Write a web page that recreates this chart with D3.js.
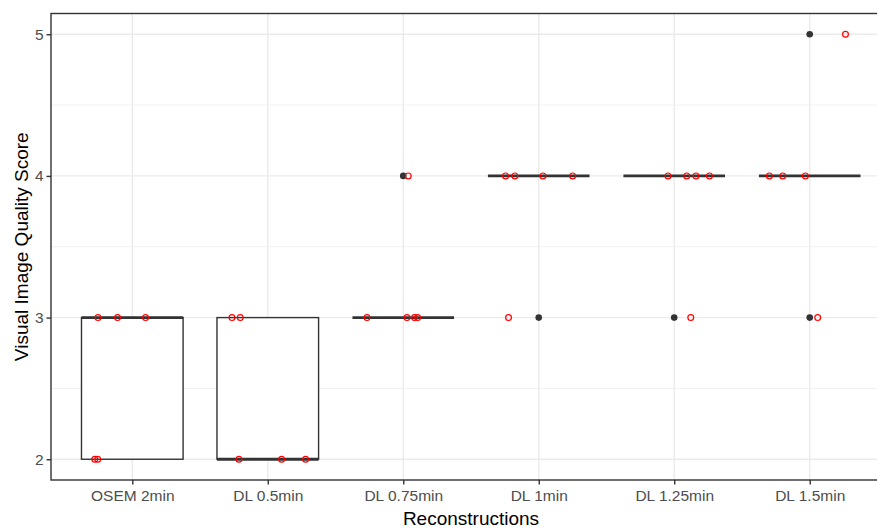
<!DOCTYPE html>
<html>
<head>
<meta charset="utf-8">
<script src="https://cdn.jsdelivr.net/npm/d3@7"></script>
<style>
  body { margin: 0; background: #fff; }
  svg text { font-family: "Liberation Sans", Arial, sans-serif; }
</style>
</head>
<body>
<div id="chart"></div>
<script>
// Data
const categories = ["OSEM 2min", "DL 0.5min", "DL 0.75min", "DL 1min", "DL 1.25min", "DL 1.5min"];
const scores = [
  [3, 3, 3, 2, 2],
  [3, 3, 2, 2, 2],
  [3, 3, 3, 3, 4],
  [4, 4, 4, 4, 3],
  [4, 4, 4, 4, 3],
  [4, 4, 4, 3, 5]
];
// horizontal jitter of each point, in category units
const jitter = [
  [-0.253, -0.109, 0.098, -0.277, -0.255],
  [-0.264, -0.203, -0.213, 0.102, 0.279],
  [-0.268, 0.027, 0.083, 0.106, 0.037],
  [-0.245, -0.176, 0.031, 0.250, -0.223],
  [-0.046, 0.092, 0.161, 0.260, 0.122],
  [-0.298, -0.199, -0.032, 0.059, 0.264]
];
const yTicks = [2, 3, 4, 5];
const yMinor = [2.5, 3.5, 4.5];

const W = 877, H = 528;
const panel = { left: 51, right: 891, top: 13, bottom: 480.5 };

const svg = d3.select("#chart").append("svg")
  .attr("width", W)
  .attr("height", H);

const x = d3.scalePoint()
  .domain(categories)
  .range([panel.left, panel.right])
  .padding(0.6);
const step = x.step();

const y = d3.scaleLinear()
  .domain([1.85, 5.15])
  .range([panel.bottom, panel.top]);

// panel background
svg.append("rect")
  .attr("x", panel.left).attr("y", panel.top)
  .attr("width", panel.right - panel.left)
  .attr("height", panel.bottom - panel.top)
  .attr("fill", "#fff");

// grid
const grid = svg.append("g");
grid.selectAll(".minor").data(yMinor).join("line")
  .attr("x1", panel.left).attr("x2", panel.right)
  .attr("y1", d => y(d)).attr("y2", d => y(d))
  .attr("stroke", "#ebebeb").attr("stroke-width", 0.7);
grid.selectAll(".hmajor").data(yTicks).join("line")
  .attr("x1", panel.left).attr("x2", panel.right)
  .attr("y1", d => y(d)).attr("y2", d => y(d))
  .attr("stroke", "#ebebeb").attr("stroke-width", 1.4);
grid.selectAll(".vmajor").data(categories).join("line")
  .attr("x1", d => x(d)).attr("x2", d => x(d))
  .attr("y1", panel.top).attr("y2", panel.bottom)
  .attr("stroke", "#ebebeb").attr("stroke-width", 1.4);

// boxplot stats
const stats = categories.map((c, i) => {
  const v = scores[i].slice().sort(d3.ascending);
  const q1 = d3.quantile(v, 0.25), med = d3.quantile(v, 0.5), q3 = d3.quantile(v, 0.75);
  const iqr = q3 - q1;
  const inside = v.filter(d => d >= q1 - 1.5 * iqr && d <= q3 + 1.5 * iqr);
  return {
    cat: c, q1, med, q3,
    lo: d3.min(inside), hi: d3.max(inside),
    outliers: v.filter(d => d < q1 - 1.5 * iqr || d > q3 + 1.5 * iqr)
  };
});

const bw = step * 0.75;
const boxes = svg.append("g");
stats.forEach(s => {
  const cx = x(s.cat);
  const g = boxes.append("g");
  if (s.hi > s.q3)
    g.append("line").attr("x1", cx).attr("x2", cx)
      .attr("y1", y(s.q3)).attr("y2", y(s.hi))
      .attr("stroke", "#333").attr("stroke-width", 1.4);
  if (s.lo < s.q1)
    g.append("line").attr("x1", cx).attr("x2", cx)
      .attr("y1", y(s.q1)).attr("y2", y(s.lo))
      .attr("stroke", "#333").attr("stroke-width", 1.4);
  g.append("rect")
    .attr("x", cx - bw / 2).attr("y", y(s.q3))
    .attr("width", bw).attr("height", Math.max(0, y(s.q1) - y(s.q3)))
    .attr("fill", "#fff").attr("stroke", "#333").attr("stroke-width", 1.4);
  g.append("line")
    .attr("x1", cx - bw / 2).attr("x2", cx + bw / 2)
    .attr("y1", y(s.med)).attr("y2", y(s.med))
    .attr("stroke", "#333").attr("stroke-width", 2.8);
  g.selectAll("circle").data(s.outliers).join("circle")
    .attr("cx", cx).attr("cy", d => y(d))
    .attr("r", 3.3).attr("fill", "#333");
});

// jittered points
const pts = [];
categories.forEach((c, i) => scores[i].forEach((v, j) => pts.push({ c, v, dx: jitter[i][j] })));
svg.append("g").selectAll("circle").data(pts).join("circle")
  .attr("cx", d => x(d.c) + d.dx * step)
  .attr("cy", d => y(d.v))
  .attr("r", 2.9)
  .attr("fill", "none")
  .attr("stroke", "#ff0000")
  .attr("stroke-width", 1.2);

// panel border
svg.append("rect")
  .attr("x", panel.left).attr("y", panel.top + 0.5)
  .attr("width", panel.right - panel.left)
  .attr("height", panel.bottom - panel.top - 1)
  .attr("fill", "none").attr("stroke", "#333").attr("stroke-width", 1.4);

// axes
const yAxis = svg.append("g")
  .attr("transform", `translate(${panel.left},0)`)
  .call(d3.axisLeft(y).tickValues(yTicks).tickSize(4.5).tickPadding(3).tickFormat(d3.format("d")));
yAxis.select(".domain").remove();
yAxis.selectAll(".tick line").attr("stroke", "#333").attr("stroke-width", 1.4);
yAxis.selectAll(".tick text").attr("fill", "#4d4d4d").style("font-size", "15.5px");

const xAxis = svg.append("g")
  .attr("transform", `translate(0,${panel.bottom - 0.5})`)
  .call(d3.axisBottom(x).tickSize(4.5).tickPadding(5));
xAxis.select(".domain").remove();
xAxis.selectAll(".tick line").attr("stroke", "#333").attr("stroke-width", 1.4);
xAxis.selectAll(".tick text").attr("fill", "#4d4d4d").style("font-size", "15.5px");

// axis titles
svg.append("text")
  .attr("x", (panel.left + panel.right) / 2)
  .attr("y", 525)
  .attr("text-anchor", "middle")
  .style("font-size", "19px")
  .attr("fill", "#000")
  .text("Reconstructions");

svg.append("text")
  .attr("transform", `translate(28,${(panel.top + panel.bottom) / 2}) rotate(-90)`)
  .attr("text-anchor", "middle")
  .style("font-size", "19px")
  .attr("fill", "#000")
  .text("Visual Image Quality Score");
</script>
</body>
</html>
